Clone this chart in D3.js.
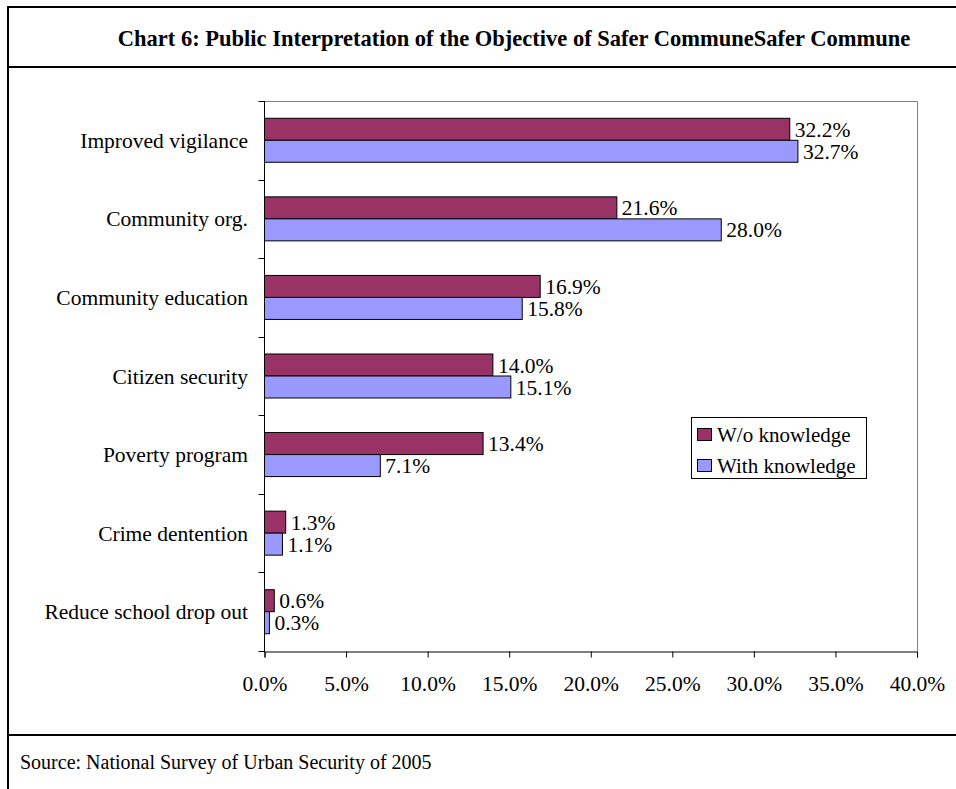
<!DOCTYPE html>
<html>
<head>
<meta charset="utf-8">
<script src="https://cdn.jsdelivr.net/npm/d3@7"></script>
<style>
  html, body { margin: 0; padding: 0; background: #fff; }
  svg { display: block; }
  text { font-family: "Liberation Serif", "Times New Roman", serif; fill: #000; }
</style>
</head>
<body>
<svg id="chart" width="956" height="789"></svg>
<script>
// Chart data
const categories = [
  "Improved vigilance",
  "Community org.",
  "Community education",
  "Citizen security",
  "Poverty program",
  "Crime dentention",
  "Reduce school drop out"
];
const withoutKnowledge = [32.2, 21.6, 16.9, 14.0, 13.4, 1.3, 0.6];
const withKnowledge    = [32.7, 28.0, 15.8, 15.1, 7.1, 1.1, 0.3];
const seriesNames = ["W/o knowledge", "With knowledge"];
const seriesColors = ["#993366", "#9999FF"];
const xTickValues = [0, 5, 10, 15, 20, 25, 30, 35, 40];

const titleText = "Chart 6: Public Interpretation of the Objective of Safer CommuneSafer Commune";
const sourceText = "Source: National Survey of Urban Security of 2005";

const W = 956, H = 789;
const labelSize = 21.5;
const svg = d3.select("#chart");

// Outer frame with title and source rows
const frame = svg.append("g");
frame.append("line").attr("x1", 8).attr("x2", W).attr("y1", 7).attr("y2", 7)
  .attr("stroke", "#000").attr("stroke-width", 2);
frame.append("line").attr("x1", 8).attr("x2", 8).attr("y1", 6).attr("y2", H)
  .attr("stroke", "#000").attr("stroke-width", 2);
frame.append("line").attr("x1", 8).attr("x2", W).attr("y1", 67).attr("y2", 67)
  .attr("stroke", "#000").attr("stroke-width", 2);
frame.append("line").attr("x1", 8).attr("x2", W).attr("y1", 735).attr("y2", 735)
  .attr("stroke", "#000").attr("stroke-width", 2);

svg.append("text")
  .attr("x", 514).attr("y", 46)
  .attr("text-anchor", "middle")
  .attr("font-size", 22.5).attr("font-weight", "bold")
  .text(titleText);

svg.append("text")
  .attr("x", 20).attr("y", 769)
  .attr("font-size", 20)
  .text(sourceText);

// Plot area
const plotLeft = 264.5, plotRight = 917, plotTop = 101, plotBottom = 651;

const x = d3.scaleLinear().domain([0, 40]).range([plotLeft, plotRight]);
const y = d3.scaleBand().domain(categories).range([plotTop, plotBottom]).paddingInner(0).paddingOuter(0);
const bw = y.bandwidth();
const barH = bw * 0.28;
const groupOffset = (bw - 2 * barH) / 2;

// Plot frame (top and right edges)
svg.append("path")
  .attr("d", `M${plotLeft},${plotTop + 0.5}H${plotRight + 0.5}V${plotBottom}`)
  .attr("fill", "none").attr("stroke", "#808080").attr("stroke-width", 1);

// Bars
const series = [withoutKnowledge, withKnowledge];
series.forEach((vals, si) => {
  const g = svg.append("g");
  g.selectAll("rect")
    .data(categories)
    .join("rect")
    .attr("x", plotLeft)
    .attr("y", (c) => y(c) + groupOffset + si * barH)
    .attr("width", (c, i) => x(vals[i]) - plotLeft)
    .attr("height", barH)
    .attr("fill", seriesColors[si])
    .attr("stroke", "#000").attr("stroke-width", 1);
  g.selectAll("text")
    .data(categories)
    .join("text")
    .attr("x", (c, i) => x(vals[i]) + 5)
    .attr("y", (c) => y(c) + groupOffset + si * barH + barH / 2)
    .attr("dy", "0.35em")
    .attr("font-size", labelSize)
    .text((c, i) => vals[i].toFixed(1) + "%");
});

// X axis
const xAxis = d3.axisBottom(x)
  .tickValues(xTickValues)
  .tickSize(6)
  .tickPadding(18)
  .tickFormat((d) => d.toFixed(1) + "%");
const gx = svg.append("g").attr("transform", `translate(0,${plotBottom + 0.5})`).call(xAxis);
gx.select(".domain").attr("stroke", "#000");
gx.selectAll(".tick line").attr("stroke", "#000");
gx.selectAll(".tick text").attr("font-size", labelSize).attr("font-family", "Liberation Serif, Times New Roman, serif");

// Y axis: ticks at category boundaries
const gy = svg.append("g");
gy.append("line").attr("x1", plotLeft).attr("x2", plotLeft).attr("y1", plotTop).attr("y2", plotBottom + 1)
  .attr("stroke", "#000");
const boundaries = categories.map((c) => y(c)).concat([plotBottom]);
gy.selectAll("line.tk").data(boundaries).join("line").attr("class", "tk")
  .attr("x1", plotLeft - 6).attr("x2", plotLeft)
  .attr("y1", (d) => Math.round(d) + 0.5).attr("y2", (d) => Math.round(d) + 0.5)
  .attr("stroke", "#000");
gy.selectAll("text").data(categories).join("text")
  .attr("x", 248)
  .attr("y", (c) => y(c) + bw / 2)
  .attr("dy", "0.35em")
  .attr("text-anchor", "end")
  .attr("font-size", labelSize)
  .text((c) => c);

// Legend
const lg = svg.append("g");
lg.append("rect").attr("x", 691.5).attr("y", 417.5).attr("width", 175).attr("height", 61)
  .attr("fill", "#fff").attr("stroke", "#000").attr("stroke-width", 1);
seriesNames.forEach((name, i) => {
  const sy = 428.5 + i * 31;
  lg.append("rect").attr("x", 697.5).attr("y", sy).attr("width", 14).attr("height", 12)
    .attr("fill", seriesColors[i]).attr("stroke", "#000").attr("stroke-width", 1);
  lg.append("text").attr("x", 717).attr("y", sy + 6).attr("dy", "0.35em")
    .attr("font-size", 21).text(name);
});
</script>
</body>
</html>
